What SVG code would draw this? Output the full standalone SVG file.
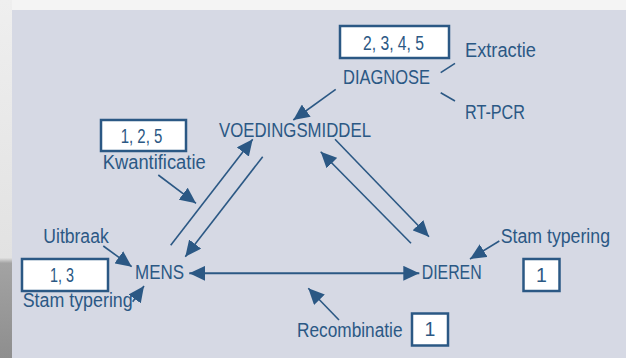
<svg xmlns="http://www.w3.org/2000/svg" width="626" height="358" viewBox="0 0 626 358">
<defs>
<style>
text{font-family:"Liberation Sans",Arial,sans-serif;font-size:19.5px;fill:#2b5884}
.box{fill:#ffffff;stroke:#2b5884;stroke-width:2.5}
.ln{stroke:#2b5884;stroke-width:1.6;fill:none}
.ar{marker-end:url(#ah)}
</style>
<marker id="ah" markerUnits="userSpaceOnUse" markerWidth="17" markerHeight="15" refX="16" refY="7.5" orient="auto-start-reverse" viewBox="0 0 17 15">
<path d="M0,0 L16,7.5 L0,15 z" fill="#2b5884"/>
</marker>
<linearGradient id="side" x1="0" y1="0" x2="0" y2="1">
<stop offset="0" stop-color="#efefef"/>
<stop offset="0.72" stop-color="#e2e2e2"/>
<stop offset="0.735" stop-color="#a3a3a3"/>
<stop offset="1" stop-color="#8e8e8e"/>
</linearGradient>
</defs>
<rect x="0" y="0" width="626" height="358" fill="#f4f4f4"/>
<rect x="0" y="0" width="12" height="358" fill="url(#side)"/>
<rect x="12" y="10" width="614" height="348" fill="#d6d9e4"/>

<g id="connectors">
<line class="ln ar" x1="335.7" y1="89.3" x2="293.3" y2="120"/>
<line class="ln ar" x1="170.7" y1="245.3" x2="252.7" y2="139.3"/>
<line class="ln ar" x1="262.7" y1="156.7" x2="185.3" y2="256.7"/>
<line class="ln ar" x1="335" y1="139.3" x2="429" y2="236.7"/>
<line class="ln ar" x1="411" y1="243.3" x2="320.7" y2="151.7"/>
<line class="ln ar" x1="189.3" y1="273.3" x2="419.3" y2="273.3" style="marker-start:url(#ah);stroke-width:2"/>
<line class="ln ar" x1="158.3" y1="175" x2="196" y2="203.3"/>
<line class="ln ar" x1="103.3" y1="246" x2="131.7" y2="266.7"/>
<line class="ln ar" x1="132.7" y1="301.7" x2="144" y2="286"/>
<line class="ln ar" x1="339" y1="320" x2="308.3" y2="288.3"/>
<line class="ln ar" x1="499.3" y1="241" x2="470" y2="259"/>
<line class="ln" x1="440.7" y1="72.7" x2="455" y2="63.3"/>
<line class="ln" x1="440.7" y1="92.7" x2="455" y2="101"/>
</g>

<g id="diagnose">
<rect class="box" x="340" y="26" width="109" height="32"/>
<text x="363" y="50" textLength="61" lengthAdjust="spacingAndGlyphs">2, 3, 4, 5</text>
<text x="343" y="84" textLength="87" lengthAdjust="spacingAndGlyphs">DIAGNOSE</text>
</g>
<g id="extractie"><text x="465" y="56.5" textLength="71" lengthAdjust="spacingAndGlyphs">Extractie</text></g>
<g id="rtpcr"><text x="465" y="119" textLength="60" lengthAdjust="spacingAndGlyphs">RT-PCR</text></g>
<g id="voedingsmiddel"><text x="219" y="136.5" textLength="152" lengthAdjust="spacingAndGlyphs">VOEDINGSMIDDEL</text></g>
<g id="kwantificatie">
<rect class="box" x="101" y="120" width="85" height="31"/>
<text x="120.7" y="143.3" textLength="41.6" lengthAdjust="spacingAndGlyphs">1, 2, 5</text>
<text x="102.7" y="169.3" textLength="103" lengthAdjust="spacingAndGlyphs">Kwantificatie</text>
</g>
<g id="uitbraak"><text x="43.3" y="242.7" textLength="65.4" lengthAdjust="spacingAndGlyphs">Uitbraak</text></g>
<g id="stamtypering-links">
<rect class="box" x="22" y="259" width="86" height="32"/>
<text x="50" y="281.7" textLength="24" lengthAdjust="spacingAndGlyphs">1, 3</text>
<text x="22.7" y="307" textLength="110" lengthAdjust="spacingAndGlyphs">Stam typering</text>
</g>
<g id="mens"><text x="135" y="279.3" textLength="49" lengthAdjust="spacingAndGlyphs">MENS</text></g>
<g id="dieren"><text x="421.7" y="279.3" textLength="60" lengthAdjust="spacingAndGlyphs">DIEREN</text></g>
<g id="stamtypering-rechts">
<text x="500.7" y="242.7" textLength="109.3" lengthAdjust="spacingAndGlyphs">Stam typering</text>
<rect class="box" x="523.5" y="259" width="36" height="32"/>
<text x="541.5" y="281.7" text-anchor="middle">1</text>
</g>
<g id="recombinatie">
<text x="297" y="337" textLength="105.5" lengthAdjust="spacingAndGlyphs">Recombinatie</text>
<rect class="box" x="412" y="313.5" width="36" height="32"/>
<text x="430" y="336" text-anchor="middle">1</text>
</g>
</svg>
